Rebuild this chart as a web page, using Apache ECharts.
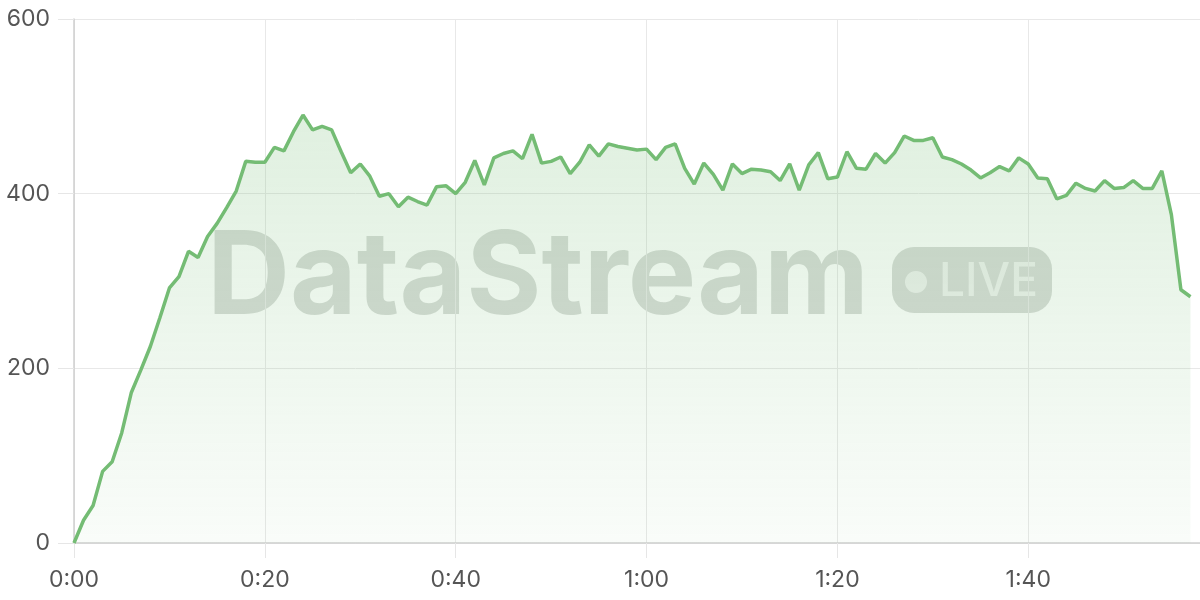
<!DOCTYPE html>
<html style="height: 100%">

<head>
    <meta charset="utf-8">
</head>

<body style="height: 100%; margin: 0; background: #fff">
    <div id="container" style="width: 1200px; height: 600px"></div>
    <script src="https://cdn.jsdelivr.net/npm/echarts@6/dist/echarts.min.js"></script>
    <script type="text/javascript">

        // one sample per second, starting at 0:00
        var stepSec = 1;
        var values = [
            0, 26, 43, 82, 93, 126, 172, 198, 225, 258,
            292, 305, 334, 327, 351, 366, 384, 403, 437, 436,
            436, 453, 449, 471, 490, 473, 477, 473, 448, 424,
            434, 420, 397, 400, 385, 396, 391, 387, 408, 409,
            400, 413, 438, 410, 441, 446, 449, 440, 468, 435,
            437, 442, 423, 436, 456, 443, 457, 454, 452, 450,
            451, 439, 453, 457, 429, 411, 435, 422, 404, 434,
            423, 428, 427, 425, 415, 434, 404, 433, 447, 417,
            419, 448, 429, 428, 446, 435, 447, 466, 461, 461,
            464, 442, 439, 434, 427, 418, 424, 431, 426, 441,
            434, 418, 417, 394, 398, 412, 406, 403, 415, 406,
            407, 415, 406, 406, 426, 376, 290, 282
        ];
        var yTicks = [0, 200, 400, 600];
        var xMaxSec = 118;

        var points = values.map(function (v, i) {
            return [i * stepSec, v];
        });

        function fmtTime(sec) {
            if (sec % 20 !== 0) return '';
            var m = Math.floor(sec / 60);
            var s = sec % 60;
            return m + ':' + (s < 10 ? '0' + s : s);
        }

        var dom = document.getElementById("container");
        var myChart = echarts.init(dom, null, { renderer: 'canvas' });

        var lineColor = '#74bc74';
        var wmColor = 'rgba(60, 75, 60, 0.2)';
        var wmLight = 'rgba(255, 255, 255, 0.6)';

        var option = {
            animation: false,
            grid: { left: 74, right: 0, top: 19, bottom: 57 },
            xAxis: {
                type: 'value',
                min: 0,
                max: xMaxSec,
                interval: 20,
                axisLine: { show: true, lineStyle: { color: '#cfcfcf', width: 1.5 } },
                axisTick: { show: true, length: 15, lineStyle: { color: '#e6e6e6' } },
                splitLine: { show: true, lineStyle: { color: '#e8e8e8' } },
                axisLabel: {
                    formatter: fmtTime,
                    showMaxLabel: false,
                    margin: 26,
                    color: '#555',
                    fontSize: 23,
                    fontFamily: 'Inter'
                }
            },
            yAxis: {
                type: 'value',
                min: yTicks[0],
                max: yTicks[yTicks.length - 1],
                interval: 200,
                axisLine: { show: true, lineStyle: { color: '#cfcfcf', width: 1.5 } },
                axisTick: { show: true, length: 16, lineStyle: { color: '#e6e6e6' } },
                splitLine: { show: true, lineStyle: { color: '#e8e8e8' } },
                axisLabel: {
                    margin: 24,
                    color: '#555',
                    fontSize: 23,
                    fontFamily: 'Inter'
                }
            },
            series: [{
                type: 'line',
                data: points,
                showSymbol: false,
                lineStyle: { color: lineColor, width: 3.5 },
                itemStyle: { color: lineColor },
                areaStyle: {
                    color: new echarts.graphic.LinearGradient(0, 0, 0, 1, [
                        { offset: 0, color: 'rgba(116, 188, 116, 0.32)' },
                        { offset: 1, color: 'rgba(116, 188, 116, 0.06)' }
                    ])
                }
            }],
            graphic: [
                {
                    type: 'text',
                    x: 207,
                    y: 279,
                    style: {
                        text: 'DataStream',
                        font: 'bold 115px Inter',
                        fill: wmColor,
                        textAlign: 'left',
                        textVerticalAlign: 'middle'
                    }
                },
                {
                    type: 'rect',
                    shape: { x: 892, y: 247, width: 160, height: 66, r: 22 },
                    style: { fill: wmColor }
                },
                {
                    type: 'circle',
                    shape: { cx: 916, cy: 282, r: 11 },
                    style: { fill: wmLight }
                },
                {
                    type: 'text',
                    x: 939,
                    y: 282,
                    style: {
                        text: 'LIVE',
                        font: '500 46px Inter',
                        fill: wmLight,
                        textAlign: 'left',
                        textVerticalAlign: 'middle'
                    }
                }
            ]
        };

        myChart.setOption(option);
    </script>
</body>

</html>
